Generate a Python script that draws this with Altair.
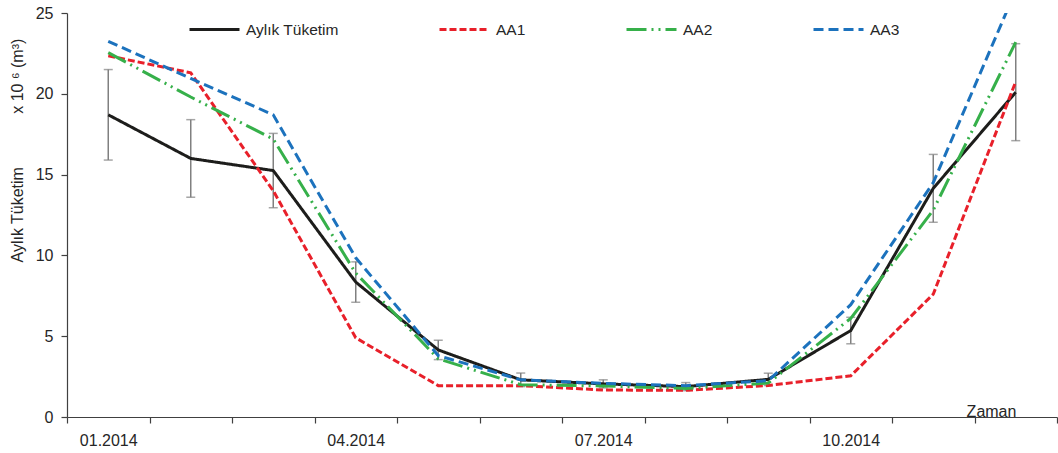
import altair as alt
import pandas as pd

months = ["01.2014", "02.2014", "03.2014", "04.2014", "05.2014", "06.2014",
          "07.2014", "08.2014", "09.2014", "10.2014", "11.2014", "12.2014"]
aylik = [18.7, 16.0, 15.25, 8.35, 4.15, 2.3, 2.05, 1.88, 2.33, 5.35, 14.15, 20.1]
err = [2.8, 2.4, 2.3, 1.25, 0.6, 0.42, 0.25, 0.25, 0.38, 0.82, 2.1, 3.0]
aa1 = [22.35, 21.3, 14.0, 4.9, 1.94, 1.94, 1.67, 1.65, 1.95, 2.55, 7.6, 20.75]
aa2 = [22.55, 19.8, 17.2, 8.9, 3.6, 2.0, 1.92, 1.77, 2.1, 6.1, 12.8, 23.2]
aa3 = [23.25, 20.95, 18.7, 9.85, 3.8, 2.3, 2.08, 1.94, 2.25, 6.95, 14.5, 26.4]

series_names = ["Aylık Tüketim", "AA1", "AA2", "AA3"]
series_colors = ["#1d1d1b", "#e8202a", "#36b04a", "#1c72bd"]
series_dash = [[1, 0], [7, 3], [20, 5, 2, 5, 2, 5], [10, 5]]
label_months = ["01.2014", "04.2014", "07.2014", "10.2014"]

FONT = "Liberation Sans"
TXT = "#262626"
AX = "#404040"

rows = []
for name, vals in zip(series_names, [aylik, aa1, aa2, aa3]):
    for m, v in zip(months, vals):
        rows.append({"month": m, "value": v, "series": name})
long_df = pd.DataFrame(rows)

err_df = pd.DataFrame({
    "month": months,
    "lo": [a - e for a, e in zip(aylik, err)],
    "hi": [a + e for a, e in zip(aylik, err)],
})

label_expr = "indexof(" + str(label_months) + ", datum.value) >= 0 ? datum.value : ''"

x_enc = alt.X(
    "month:O",
    bandPosition=0.5,
    scale=alt.Scale(type="band", domain=months, paddingInner=0, paddingOuter=0),
    axis=alt.Axis(
        title="Zaman",
        titleX=924,
        titleY=-1,
        titleBaseline="alphabetic",
        titleAlign="center",
        titleFont=FONT,
        titleFontSize=16,
        titleFontWeight="normal",
        titleColor=TXT,
        labelExpr=label_expr,
        labelAngle=0,
        labelFont=FONT,
        labelFontSize=16,
        labelColor=TXT,
        labelPadding=9,
        tickBand="extent",
        tickSize=6,
        tickColor=AX,
        tickWidth=1.2,
        domainColor=AX,
        domainWidth=1.2,
        grid=False,
    ),
)

y_scale = alt.Scale(domain=[0, 25], nice=False, zero=True)
y_axis = alt.Axis(
    title="Aylık Tüketim" + "\u00a0" * 12 + "x 10\u00a0\u2076 (m\u00b3)",
    titleAngle=270,
    titleAlign="left",
    titleBaseline="alphabetic",
    titleX=-45,
    titleY=249,
    titleFont=FONT,
    titleFontSize=16,
    titleFontWeight="normal",
    titleColor=TXT,
    values=[0, 5, 10, 15, 20, 25],
    labelFont=FONT,
    labelFontSize=16,
    labelColor=TXT,
    labelPadding=8,
    tickSize=6,
    tickColor=AX,
    tickWidth=1.2,
    domainColor=AX,
    domainWidth=1.2,
    grid=False,
)

base_err = alt.Chart(err_df)
err_rule = base_err.mark_rule(color="#808080", strokeWidth=1.5).encode(
    x=x_enc,
    y=alt.Y("lo:Q", scale=y_scale, axis=y_axis),
    y2="hi:Q",
)
cap_lo = base_err.mark_tick(color="#808080", thickness=1.5, size=9).encode(
    x=x_enc, y=alt.Y("lo:Q", scale=y_scale)
)
cap_hi = base_err.mark_tick(color="#808080", thickness=1.5, size=9).encode(
    x=x_enc, y=alt.Y("hi:Q", scale=y_scale)
)

legend_cfg = dict(
    title=None,
    orient="none",
    legendX=121,
    legendY=-10,
    direction="horizontal",
    columns=4,
    columnPadding=94,
    symbolType="stroke",
    symbolSize=2500,
    symbolStrokeWidth=3,
    labelFont=FONT,
    labelFontSize=15.5,
    labelColor=TXT,
    labelOffset=5,
    padding=0,
)

lines = alt.Chart(long_df).mark_line(strokeWidth=3, clip=True, strokeJoin="miter").encode(
    x=x_enc,
    y=alt.Y("value:Q", scale=y_scale),
    color=alt.Color(
        "series:N",
        scale=alt.Scale(domain=series_names, range=series_colors),
        legend=alt.Legend(**legend_cfg),
    ),
    strokeDash=alt.StrokeDash(
        "series:N",
        scale=alt.Scale(domain=series_names, range=series_dash),
        legend=alt.Legend(**legend_cfg),
    ),
    detail="series:N",
)

chart = alt.layer(err_rule, cap_lo, cap_hi, lines).properties(
    width=990,
    height=404,
    padding={"left": 67, "top": 13, "right": 1, "bottom": 36},
    autosize="none",
    background="white",
).configure_view(stroke=None)

chart.save("out.html", embed_options={"renderer": "svg", "actions": False})
